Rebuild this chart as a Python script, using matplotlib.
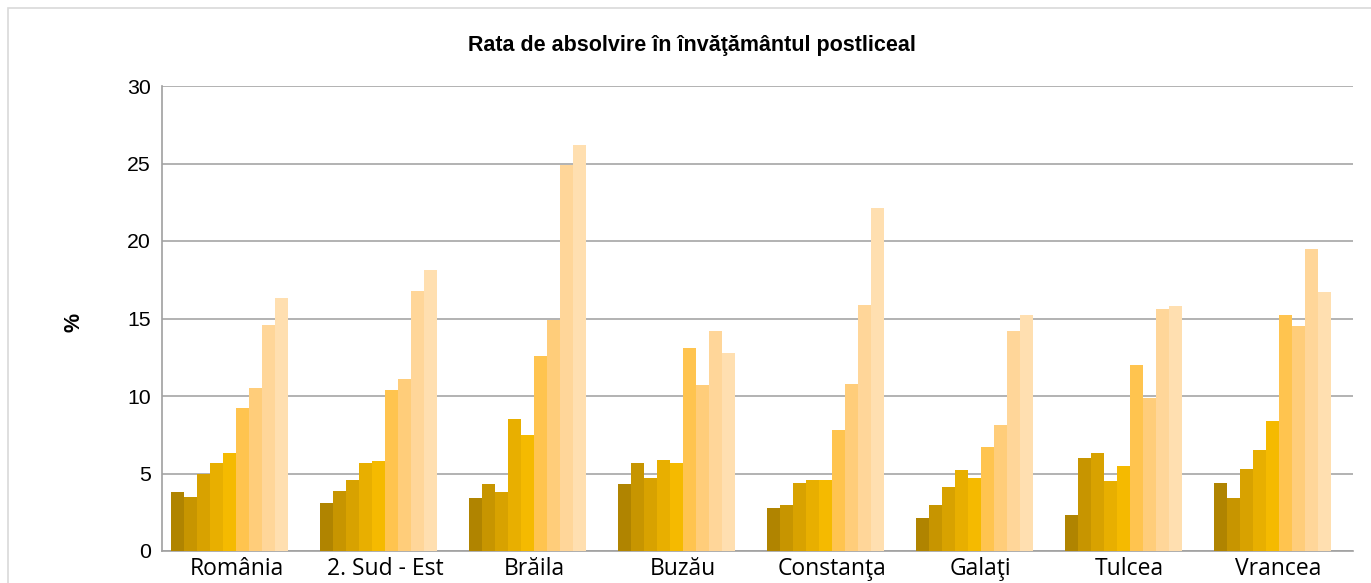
import matplotlib
matplotlib.use("Agg")
import matplotlib.pyplot as plt
import numpy as np
from matplotlib.patches import Rectangle

categories = ["România", "2. Sud - Est", "Brăila", "Buzău", "Constanţa", "Galaţi", "Tulcea", "Vrancea"]

# one list per series (9 series, ordered dark -> light)
s1 = [3.8, 3.1, 3.4, 4.3, 2.8, 2.1, 2.3, 4.4]
s2 = [3.5, 3.9, 4.3, 5.7, 3.0, 3.0, 6.0, 3.4]
s3 = [5.0, 4.6, 3.8, 4.7, 4.4, 4.1, 6.3, 5.3]
s4 = [5.7, 5.7, 8.5, 5.9, 4.6, 5.2, 4.5, 6.5]
s5 = [6.3, 5.8, 7.5, 5.7, 4.6, 4.7, 5.5, 8.4]
s6 = [9.2, 10.4, 12.6, 13.1, 7.8, 6.7, 12.0, 15.2]
s7 = [10.5, 11.1, 14.9, 10.7, 10.8, 8.1, 9.9, 14.5]
s8 = [14.6, 16.8, 24.9, 14.2, 15.9, 14.2, 15.6, 19.5]
s9 = [16.3, 18.1, 26.2, 12.8, 22.1, 15.2, 15.8, 16.7]
series = [s1, s2, s3, s4, s5, s6, s7, s8, s9]

colors = ["#B08400", "#C79500", "#D8A200", "#E8AF00", "#F5BA00",
          "#FFC44F", "#FFCD7A", "#FFD699", "#FFDFB0"]

title = "Rata de absolvire în învăţământul postliceal"
ylabel = "%"
yticks = [0, 5, 10, 15, 20, 25, 30]

W, H = 1371, 583
fig = plt.figure(figsize=(W / 100, H / 100), dpi=100)
ax = fig.add_axes([162 / W, 1 - 551 / H, (1353 - 162) / W, (551 - 86) / H])

n_slots = 10
group_w = 0.873
bw = group_w / n_slots
x = np.arange(len(categories))
for i, (vals, c) in enumerate(zip(series, colors)):
    ax.bar(x - group_w / 2 + bw * (i + 0.5), vals, width=bw, color=c, linewidth=0, zorder=3)

ax.set_xlim(-0.5, len(categories) - 0.5)
ax.set_ylim(0, 30)
ax.set_yticks(yticks)
ax.set_yticklabels([str(v) for v in yticks], fontsize=15.3, family="Liberation Sans")
ax.set_xticks(x)
ax.set_xticklabels(categories, fontsize=16.5, family="Open Sans")
ax.tick_params(axis="x", length=0, pad=4)
ax.tick_params(axis="y", length=0, pad=8)
ax.grid(axis="y", color="#A6A6A6", linewidth=1.2, zorder=0)
for side in ["top", "right"]:
    ax.spines[side].set_visible(False)
ax.spines["left"].set_color("#A0A0A0")
ax.spines["bottom"].set_color("#A0A0A0")
ax.spines["left"].set_linewidth(1.2)
ax.spines["bottom"].set_linewidth(1.2)

fig.text(692 / W, 1 - 46 / H, title, ha="center", va="center", fontsize=15.5,
         fontweight="bold", family="Liberation Sans")
fig.text(74 / W, 1 - 322 / H, ylabel, ha="center", va="center", rotation=90,
         fontsize=15.5, fontweight="bold", family="Liberation Sans")

fig.patches.append(Rectangle((8 / W, -0.1), 1.2, 1 - 8 / H + 0.1, transform=fig.transFigure,
                             fill=False, edgecolor="#D9D9D9", linewidth=1.2))

fig.savefig("out.png", dpi=100)
